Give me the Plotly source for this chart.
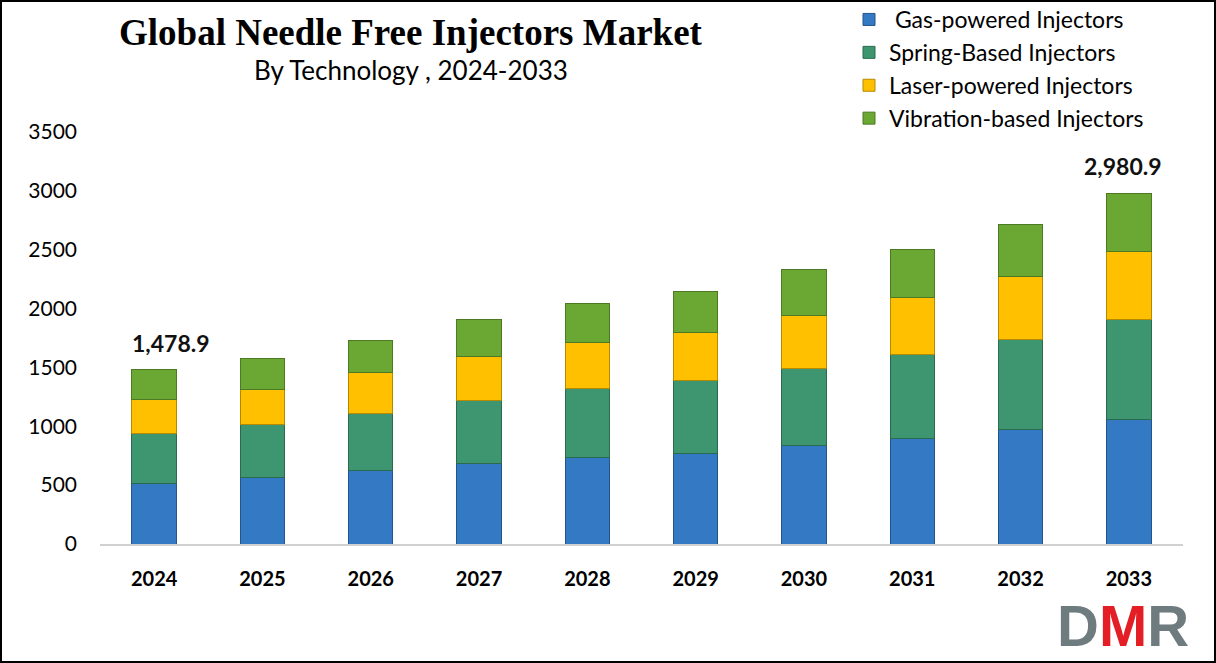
import plotly.graph_objects as go

years = ["2024", "2025", "2026", "2027", "2028", "2029", "2030", "2031", "2032", "2033"]
gas = [518, 567, 623, 688, 731, 765, 833, 900, 974, 1059]
spring = [425, 444, 487, 535, 586, 620, 662, 706, 767, 844]
laser = [283, 303, 349, 374, 391, 416, 450, 484, 530, 580]
vibration = [252.9, 258, 274, 306, 339, 348, 391, 416, 445, 497.9]
series_names = [" Gas-powered Injectors", "Spring-Based Injectors", "Laser-powered Injectors", "Vibration-based Injectors"]
colors = ["#3479C4", "#3D9670", "#FFC000", "#6AA833"]
line_colors = ["#22558C", "#2A6B4F", "#B58A00", "#4B7A22"]
labels = {"2024": "1,478.9", "2033": "2,980.9"}
label_xshift = {"2024": 17, "2033": -6}
y_ticks = [0, 500, 1000, 1500, 2000, 2500, 3000, 3500]

fig = go.Figure()
for name, vals, c, lc in zip(series_names, [gas, spring, laser, vibration], colors, line_colors):
    fig.add_trace(go.Bar(
        x=years, y=vals, name=name, width=0.41,
        marker=dict(color=c, line=dict(color=lc, width=1)),
    ))

totals = [sum(v) for v in zip(gas, spring, laser, vibration)]
for yr, txt in labels.items():
    i = years.index(yr)
    fig.add_annotation(x=i, y=totals[i], text="<b>" + txt + "</b>", showarrow=False,
                       yanchor="bottom", yshift=11, xshift=label_xshift[yr],
                       font=dict(family="Lato, Open Sans, sans-serif", size=23, color="#111"))

L, R, T, B = 100, 33, 132, 119
W, H = 1216, 663
pw, ph = W - L - R, H - T - B

fig.add_shape(type="rect", xref="paper", yref="paper",
              x0=-(L - 1) / pw, x1=1 + (R - 1) / pw, y0=-(B - 1) / ph, y1=1 + (T - 1) / ph,
              line=dict(color="black", width=2))

fig.add_annotation(xref="paper", yref="paper", x=(411 - L) / pw, y=1 + (T - 32) / ph,
                   text="<b>Global Needle Free Injectors Market</b>", showarrow=False,
                   xanchor="center", yanchor="middle",
                   font=dict(family="Liberation Serif, Times New Roman, serif", size=37, color="black"))
fig.add_annotation(xref="paper", yref="paper", x=(411 - L) / pw, y=1 + (T - 70) / ph,
                   text="By Technology , 2024-2033", showarrow=False,
                   xanchor="center", yanchor="middle",
                   font=dict(family="Lato, Open Sans, sans-serif", size=26, color="black"))

fig.add_annotation(xref="paper", yref="paper", x=(1123 - L) / pw, y=-(625 - (H - B)) / ph,
                   text="<b><span style='color:#6E7B7F'>D</span><span style='color:#E31E24'>M</span><span style='color:#6E7B7F'>R</span></b>",
                   showarrow=False, xanchor="center", yanchor="middle",
                   font=dict(family="Liberation Sans, Arial, sans-serif", size=58, color="#6E7B7F"))

fig.update_layout(
    width=W, height=H,
    margin=dict(l=L, r=R, t=T, b=B, pad=0, autoexpand=False),
    barmode="stack",
    paper_bgcolor="white", plot_bgcolor="white",
    showlegend=True,
    legend=dict(x=(849 - L) / pw, y=1 + (T + 2) / ph, xanchor="left", yanchor="top",
                traceorder="normal", bgcolor="rgba(0,0,0,0)",
                font=dict(family="Lato, Open Sans, sans-serif", size=23, color="black"),
                itemwidth=30, tracegroupgap=0),
    xaxis=dict(type="category", showgrid=False, showline=True, linecolor="#D0D0D0", linewidth=2,
               ticks="", ticklabelstandoff=16,
               tickfont=dict(family="Lato, Open Sans, sans-serif", size=20, color="black"),
               tickprefix="<b>", ticksuffix="</b>", range=[-0.5, 9.5]),
    yaxis=dict(range=[0, 3500], tickvals=y_ticks, showgrid=False, zeroline=False, showline=False,
               ticks="", ticklabelstandoff=22,
               tickfont=dict(family="Lato, Open Sans, sans-serif", size=21, color="black")),
)

fig.write_html("out.html")
